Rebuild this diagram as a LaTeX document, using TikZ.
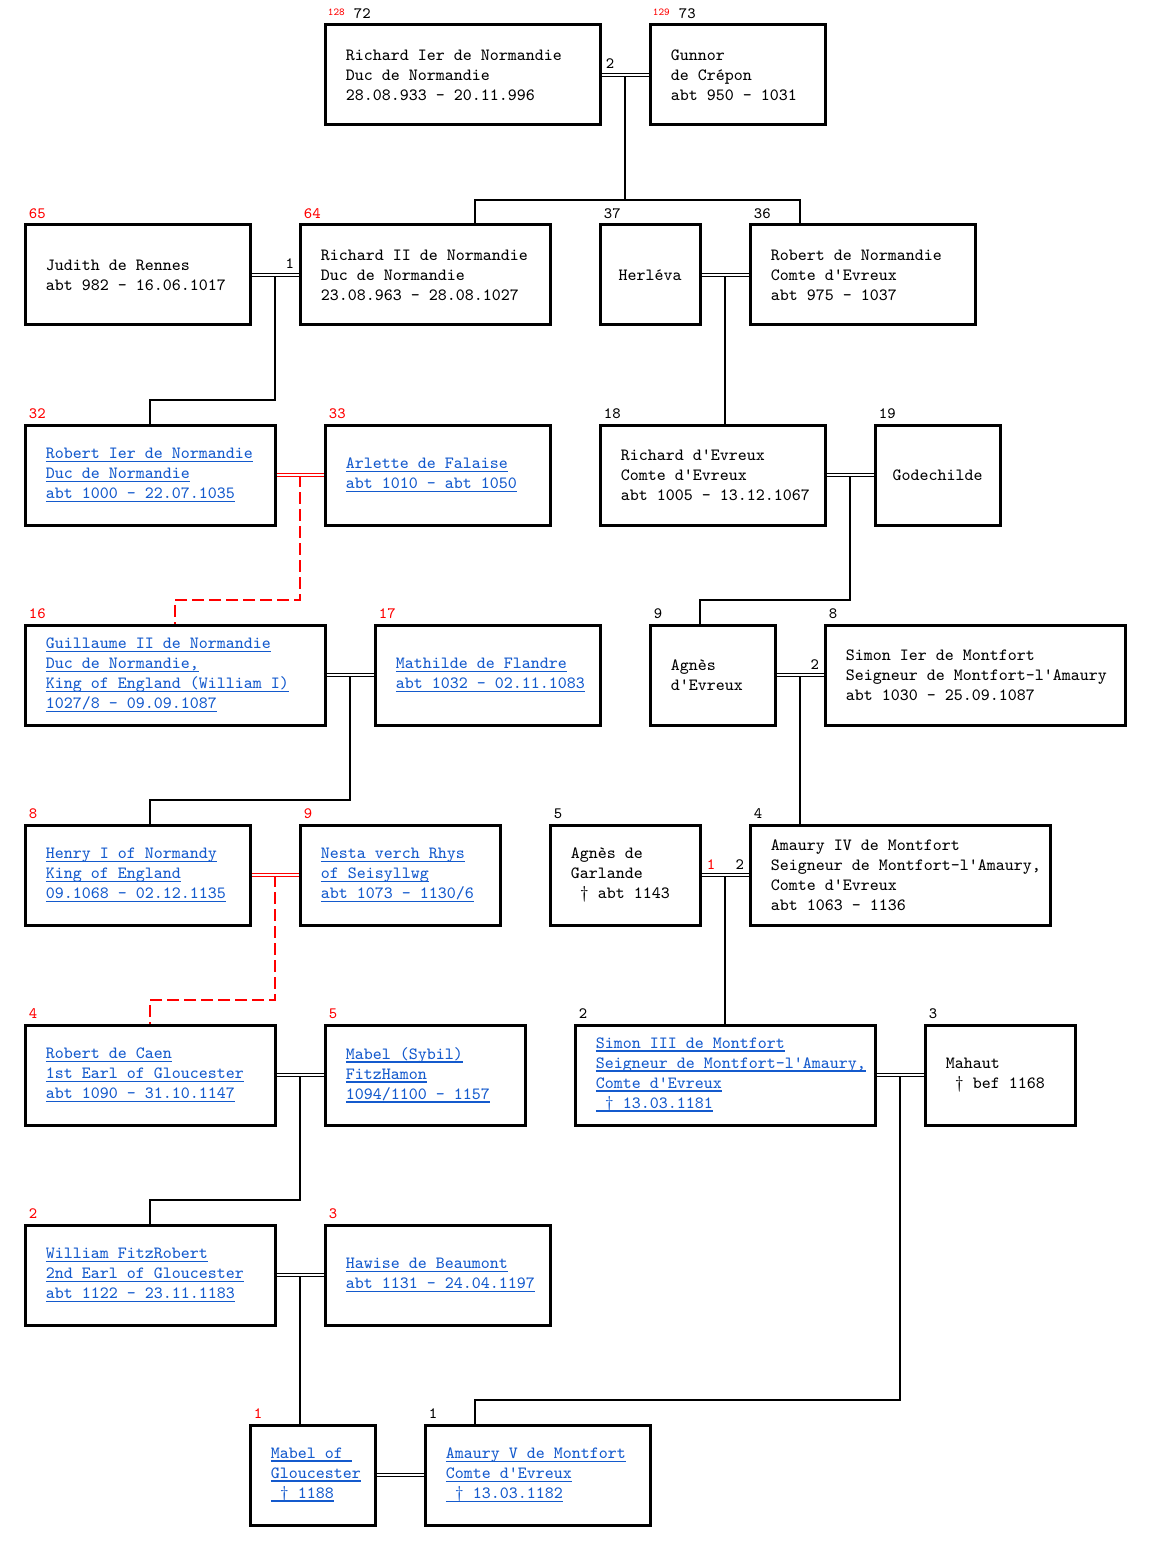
\documentclass[tikz,border=0pt]{standalone}
\usepackage{fontspec}
\usetikzlibrary{calc}
\definecolor{linkblue}{RGB}{20,90,205}
\newcommand\lnk[1]{\textcolor{linkblue}{\setbox0\hbox{#1}\rlap{\rule[-1.6pt]{\wd0}{0.6pt}}\box0}}

\begin{document}
\begin{tikzpicture}[x=0.5pt,y=-0.5pt,
  pbox/.style={draw, line width=1.5pt, minimum height=50pt, inner sep=0pt},
  ptxt/.style={anchor=west, align=left, inner sep=0pt, font=\ttfamily\fontsize{8.57}{10}\selectfont},
  gen/.style={anchor=base west, inner sep=0pt, font=\ttfamily\fontsize{7.9}{8}\selectfont},
  sosa/.style={anchor=base west, inner sep=0pt, text=red, font=\ttfamily\fontsize{5.3}{6}\selectfont},
  wed/.style={double, double distance=0.7pt, line width=0.5pt},
  kid/.style={line width=1pt},
  kidred/.style={red, line width=1pt, dash pattern=on 6pt off 2.5pt}]
\useasboundingbox (0,0) rectangle (1151,1551);

% row 1
\node[pbox, minimum width=137.5pt] (richardI) at (462.5,75) {};
\node[ptxt] (richardIt) at ([xshift=11pt]richardI.west) {Richard Ier de Normandie\\Duc de Normandie\\28.08.933 - 20.11.996};
\node[pbox, minimum width=87.5pt] (gunnor) at (737.5,75) {};
\node[ptxt] (gunnort) at ([xshift=11pt]gunnor.west) {Gunnor\\de Crépon\\abt 950 - 1031};
\node[sosa] (s128) at ([xshift=2pt,yshift=4pt]richardI.north west) {128};
\node[gen] (l72) at ([xshift=15pt,yshift=2.5pt]richardI.north west) {72};
\node[sosa] (s129) at ([xshift=2pt,yshift=4pt]gunnor.north west) {129};
\node[gen] (l73) at ([xshift=15pt,yshift=2.5pt]gunnor.north west) {73};

% row 2
\node[pbox, minimum width=112.5pt] (judith) at (137.5,275) {};
\node[ptxt] (juditht) at ([xshift=11pt]judith.west) {Judith de Rennes\\abt 982 - 16.06.1017};
\node[pbox, minimum width=125pt] (richardII) at (425,275) {};
\node[ptxt] (richardIIt) at ([xshift=11pt]richardII.west) {Richard II de Normandie\\Duc de Normandie\\23.08.963 - 28.08.1027};
\node[pbox, minimum width=50pt] (herleva) at (650,275) {};
\node[ptxt, anchor=center] (herlevat) at (herleva.center) {Herléva};
\node[pbox, minimum width=112.5pt] (robertN) at (862.5,275) {};
\node[ptxt] (robertNt) at ([xshift=11pt]robertN.west) {Robert de Normandie\\Comte d'Evreux\\abt 975 - 1037};
\node[gen, text=red] (l65) at ([xshift=2.5pt,yshift=2.5pt]judith.north west) {65};
\node[gen, text=red] (l64) at ([xshift=2.5pt,yshift=2.5pt]richardII.north west) {64};
\node[gen] (l37) at ([xshift=2.5pt,yshift=2.5pt]herleva.north west) {37};
\node[gen] (l36) at ([xshift=2.5pt,yshift=2.5pt]robertN.north west) {36};

% row 3
\node[pbox, minimum width=125pt] (robertI) at (150,475) {};
\node[ptxt] (robertIt) at ([xshift=11pt]robertI.west) {\lnk{Robert Ier de Normandie}\\\lnk{Duc de Normandie}\\\lnk{abt 1000 - 22.07.1035}};
\node[pbox, minimum width=112.5pt] (arlette) at (437.5,475) {};
\node[ptxt] (arlettet) at ([xshift=11pt]arlette.west) {\lnk{Arlette de Falaise}\\\lnk{abt 1010 - abt 1050}};
\node[pbox, minimum width=112.5pt] (richardE) at (712.5,475) {};
\node[ptxt] (richardEt) at ([xshift=11pt]richardE.west) {Richard d'Evreux\\Comte d'Evreux\\abt 1005 - 13.12.1067};
\node[pbox, minimum width=62.5pt] (godechilde) at (937.5,475) {};
\node[ptxt, anchor=center] (godechildet) at (godechilde.center) {Godechilde};
\node[gen, text=red] (l32) at ([xshift=2.5pt,yshift=2.5pt]robertI.north west) {32};
\node[gen, text=red] (l33) at ([xshift=2.5pt,yshift=2.5pt]arlette.north west) {33};
\node[gen] (l18) at ([xshift=2.5pt,yshift=2.5pt]richardE.north west) {18};
\node[gen] (l19) at ([xshift=2.5pt,yshift=2.5pt]godechilde.north west) {19};

% row 4
\node[pbox, minimum width=150pt] (guillaume) at (175,675) {};
\node[ptxt] (guillaumet) at ([xshift=11pt]guillaume.west) {\lnk{Guillaume II de Normandie}\\\lnk{Duc de Normandie,}\\\lnk{King of England (William I)}\\\lnk{1027/8 - 09.09.1087}};
\node[pbox, minimum width=112.5pt] (mathilde) at (487.5,675) {};
\node[ptxt] (mathildet) at ([xshift=11pt]mathilde.west) {\lnk{Mathilde de Flandre}\\\lnk{abt 1032 - 02.11.1083}};
\node[pbox, minimum width=62.5pt] (agnesE) at (712.5,675) {};
\node[ptxt] (agnesEt) at ([xshift=11pt]agnesE.west) {Agnès\\d'Evreux};
\node[pbox, minimum width=150pt] (simonI) at (975,675) {};
\node[ptxt] (simonIt) at ([xshift=11pt]simonI.west) {Simon Ier de Montfort\\Seigneur de Montfort-l'Amaury\\abt 1030 - 25.09.1087};
\node[gen, text=red] (l16) at ([xshift=2.5pt,yshift=2.5pt]guillaume.north west) {16};
\node[gen, text=red] (l17) at ([xshift=2.5pt,yshift=2.5pt]mathilde.north west) {17};
\node[gen] (l9) at ([xshift=2.5pt,yshift=2.5pt]agnesE.north west) {9};
\node[gen] (l8) at ([xshift=2.5pt,yshift=2.5pt]simonI.north west) {8};

% row 5
\node[pbox, minimum width=112.5pt] (henry) at (137.5,875) {};
\node[ptxt] (henryt) at ([xshift=11pt]henry.west) {\lnk{Henry I of Normandy}\\\lnk{King of England}\\\lnk{09.1068 - 02.12.1135}};
\node[pbox, minimum width=100pt] (nesta) at (400,875) {};
\node[ptxt] (nestat) at ([xshift=11pt]nesta.west) {\lnk{Nesta verch Rhys}\\\lnk{of Seisyllwg}\\\lnk{abt 1073 - 1130/6}};
\node[pbox, minimum width=75pt] (agnesG) at (625,875) {};
\node[ptxt] (agnesGt) at ([xshift=11pt]agnesG.west) {Agnès de\\Garlande\\~† abt 1143};
\node[pbox, minimum width=150pt] (amauryIV) at (900,875) {};
\node[ptxt] (amauryIVt) at ([xshift=11pt]amauryIV.west) {Amaury IV de Montfort\\Seigneur de Montfort-l'Amaury,\\Comte d'Evreux\\abt 1063 - 1136};
\node[gen, text=red] (l8b) at ([xshift=2.5pt,yshift=2.5pt]henry.north west) {8};
\node[gen, text=red] (l9b) at ([xshift=2.5pt,yshift=2.5pt]nesta.north west) {9};
\node[gen] (l5) at ([xshift=2.5pt,yshift=2.5pt]agnesG.north west) {5};
\node[gen] (l4) at ([xshift=2.5pt,yshift=2.5pt]amauryIV.north west) {4};

% row 6
\node[pbox, minimum width=125pt] (robertC) at (150,1075) {};
\node[ptxt] (robertCt) at ([xshift=11pt]robertC.west) {\lnk{Robert de Caen}\\\lnk{1st Earl of Gloucester}\\\lnk{abt 1090 - 31.10.1147}};
\node[pbox, minimum width=100pt] (mabelS) at (425,1075) {};
\node[ptxt] (mabelSt) at ([xshift=11pt]mabelS.west) {\lnk{Mabel (Sybil)}\\\lnk{FitzHamon}\\\lnk{1094/1100 - 1157}};
\node[pbox, minimum width=150pt] (simonIII) at (725,1075) {};
\node[ptxt] (simonIIIt) at ([xshift=11pt]simonIII.west) {\lnk{Simon III de Montfort}\\\lnk{Seigneur de Montfort-l'Amaury,}\\\lnk{Comte d'Evreux}\\\lnk{~† 13.03.1181}};
\node[pbox, minimum width=75pt] (mahaut) at (1000,1075) {};
\node[ptxt] (mahautt) at ([xshift=11pt]mahaut.west) {Mahaut\\~† bef 1168};
\node[gen, text=red] (l4b) at ([xshift=2.5pt,yshift=2.5pt]robertC.north west) {4};
\node[gen, text=red] (l5b) at ([xshift=2.5pt,yshift=2.5pt]mabelS.north west) {5};
\node[gen] (l2) at ([xshift=2.5pt,yshift=2.5pt]simonIII.north west) {2};
\node[gen] (l3) at ([xshift=2.5pt,yshift=2.5pt]mahaut.north west) {3};

% row 7
\node[pbox, minimum width=125pt] (william) at (150,1275) {};
\node[ptxt] (williamt) at ([xshift=11pt]william.west) {\lnk{William FitzRobert}\\\lnk{2nd Earl of Gloucester}\\\lnk{abt 1122 - 23.11.1183}};
\node[pbox, minimum width=112.5pt] (hawise) at (437.5,1275) {};
\node[ptxt] (hawiset) at ([xshift=11pt]hawise.west) {\lnk{Hawise de Beaumont}\\\lnk{abt 1131 - 24.04.1197}};
\node[gen, text=red] (l2b) at ([xshift=2.5pt,yshift=2.5pt]william.north west) {2};
\node[gen, text=red] (l3b) at ([xshift=2.5pt,yshift=2.5pt]hawise.north west) {3};

% row 8
\node[pbox, minimum width=62.5pt] (mabelG) at (312.5,1475) {};
\node[ptxt] (mabelGt) at ([xshift=11pt]mabelG.west) {\lnk{Mabel of~}\\\lnk{Gloucester}\\\lnk{~† 1188}};
\node[pbox, minimum width=112.5pt] (amauryV) at (537.5,1475) {};
\node[ptxt] (amauryVt) at ([xshift=11pt]amauryV.west) {\lnk{Amaury V de Montfort}\\\lnk{Comte d'Evreux}\\\lnk{~† 13.03.1182}};
\node[gen, text=red] (l1) at ([xshift=2.5pt,yshift=2.5pt]mabelG.north west) {1};
\node[gen] (l1b) at ([xshift=2.5pt,yshift=2.5pt]amauryV.north west) {1};

% couples
\coordinate (m1) at ($(richardI.east)!.5!(gunnor.west)$);
\coordinate (m2) at ($(judith.east)!.5!(richardII.west)$);
\coordinate (m3) at ($(herleva.east)!.5!(robertN.west)$);
\coordinate (m4) at ($(robertI.east)!.5!(arlette.west)$);
\coordinate (m5) at ($(richardE.east)!.5!(godechilde.west)$);
\coordinate (m6) at ($(guillaume.east)!.5!(mathilde.west)$);
\coordinate (m7) at ($(agnesE.east)!.5!(simonI.west)$);
\coordinate (m8) at ($(henry.east)!.5!(nesta.west)$);
\coordinate (m9) at ($(agnesG.east)!.5!(amauryIV.west)$);
\coordinate (m10) at ($(robertC.east)!.5!(mabelS.west)$);
\coordinate (m11) at ($(simonIII.east)!.5!(mahaut.west)$);
\coordinate (m12) at ($(william.east)!.5!(hawise.west)$);

% descent
\draw[kid] (m1) -- ++(0,125) -| ([xshift=25pt]richardII.north);
\draw[kid] (m1) -- ++(0,125) -| ([xshift=-31.25pt]robertN.north);
\draw[kid] (m2) -- ++(0,125) -| (robertI.north);
\draw[kid] (m3) -- (m3 |- richardE.north);
\draw[kidred] (m4) -- ++(0,125) -| (guillaume.north);
\draw[kid] (m5) -- ++(0,125) -| ([xshift=-6.25pt]agnesE.north);
\draw[kid] (m6) -- ++(0,125) -| ([xshift=6.25pt]henry.north);
\draw[kid] (m7) -- (m7 |- amauryIV.north);
\draw[kidred] (m8) -- ++(0,125) -| (robertC.north);
\draw[kid] (m9) -- (m9 |- simonIII.north);
\draw[kid] (m10) -- ++(0,125) -| (william.north);
\draw[kid] (m11) -- ++(0,325) -| ([xshift=-31.25pt]amauryV.north);
\draw[kid] (m12) -- (m12 |- mabelG.north);

% marriages
\draw[wed] (richardI.east) -- (gunnor.west);
\draw[wed] (judith.east) -- (richardII.west);
\draw[wed] (herleva.east) -- (robertN.west);
\draw[wed, red] (robertI.east) -- (arlette.west);
\draw[wed] (richardE.east) -- (godechilde.west);
\draw[wed] (guillaume.east) -- (mathilde.west);
\draw[wed] (agnesE.east) -- (simonI.west);
\draw[wed, red] (henry.east) -- (nesta.west);
\draw[wed] (agnesG.east) -- (amauryIV.west);
\draw[wed] (robertC.east) -- (mabelS.west);
\draw[wed] (simonIII.east) -- (mahaut.west);
\draw[wed] (william.east) -- (hawise.west);
\draw[wed] (mabelG.east) -- (amauryV.west);

% marriage numbers
\node[gen] (w1) at ([xshift=2pt,yshift=3pt]richardI.east) {2};
\node[gen, anchor=base east] (w2) at ([xshift=-2pt,yshift=3pt]richardII.west) {1};
\node[gen, anchor=base east] (w3) at ([xshift=-2pt,yshift=3pt]simonI.west) {2};
\node[gen, text=red] (w4) at ([xshift=2.5pt,yshift=3pt]agnesG.east) {1};
\node[gen, anchor=base east] (w5) at ([xshift=-2pt,yshift=3pt]amauryIV.west) {2};
\end{tikzpicture}
\end{document}
